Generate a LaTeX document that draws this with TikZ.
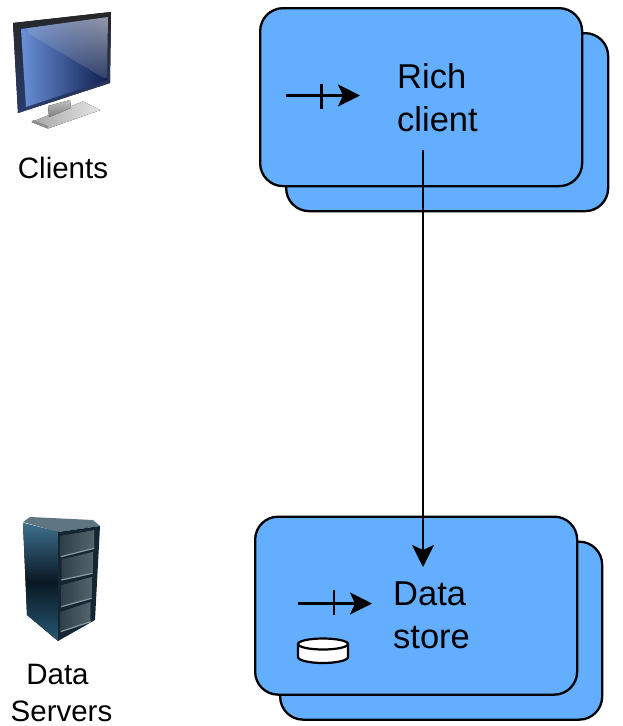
\documentclass[tikz,border=0pt]{standalone}
\usepackage{fontspec}
\setmainfont{Liberation Sans}
\usetikzlibrary{arrows.meta,shapes.geometric,fadings}
\definecolor{boxblue}{HTML}{63AEFF}
\definecolor{scrlight}{RGB}{112,152,225}
\definecolor{scrdark}{RGB}{10,24,70}
\definecolor{scrgray}{RGB}{215,215,218}
\definecolor{bezelb}{RGB}{40,60,110}
\definecolor{srvside}{RGB}{62,112,140}
\definecolor{srvsideb}{RGB}{40,88,115}
\definecolor{srvmid}{RGB}{10,24,36}
\definecolor{srvfront}{RGB}{20,38,52}
\definecolor{srvtop}{RGB}{95,118,130}
\definecolor{rackl}{RGB}{48,64,74}
\definecolor{rackr}{RGB}{84,100,108}
\definecolor{rackb}{RGB}{135,155,160}
\tikzset{
  card/.style={draw=black,line width=2.3pt,fill=boxblue,rounded corners=23pt,minimum width=322pt,minimum height=178pt,inner sep=0pt,anchor=north west},
  lbl/.style={align=left,inner sep=0pt,anchor=north west,font=\fontsize{34.5}{43}\selectfont},
  captiontext/.style={align=center,inner sep=0pt,anchor=north,font=\fontsize{29.5}{37}\selectfont},
  conn/.style={line width=2.2pt,-{Stealth[length=22pt,width=22pt,inset=5pt]}},
  tickline/.style={line width=2.2pt},
  wire/.style={line width=2.2pt}
}
\begin{document}
\begin{tikzpicture}[x=1pt,y=-1pt]
\useasboundingbox (0,0) rectangle (623,726);
% Rich client
\node[card] (richback) at (285,32) {};
\node[card] (richfront) at (259,7) {};
\node[lbl] (richtext) at (397,63.5) {Rich\\client};
\coordinate (ra) at (286,95.5);\coordinate (rb) at (360,95.5);
\coordinate (rt1) at (321.5,84);\coordinate (rt2) at (321.5,109);
\draw[conn] (ra) -- (rb);
\draw[tickline] (rt1) -- (rt2);
% Data store
\node[card] (databack) at (279,540.5) {};
\node[card] (datafront) at (254,515.5) {};
\node[lbl] (datatext) at (393,581.5) {Data\\store};
\coordinate (da) at (298,603.5);\coordinate (db) at (372,603.5);
\coordinate (dt1) at (334,590);\coordinate (dt2) at (334,615);
\draw[conn] (da) -- (db);
\draw[tickline] (dt1) -- (dt2);
% cylinder
\draw[wire,fill=white] (298,644) -- (298,657) arc[start angle=180,end angle=0,x radius=25,y radius=6] -- (348,644);
\draw[wire,fill=white] (323,644) ellipse[x radius=25,y radius=5.5];
% main connector
\coordinate (c1) at (423,150);\coordinate (c2) at (423,567);
\draw[conn] (c1) -- (c2);
% Monitor
\fill[left color=black!35,right color=black!10] (31.5,122) -- (83,101.5) -- (100.5,110) -- (48,128.5) -- cycle;
\fill[black!45] (31.5,122) -- (48,128.5) -- (48,126) -- (33,120) -- cycle;
\fill[top color=black!25,bottom color=black!50] (48,106) -- (70,100) -- (71,108) -- (49,117) -- cycle;
\fill[top color=black!85,bottom color=bezelb] (13,23) -- (111,12) -- (110,83) -- (18,113) -- cycle;
\begin{scope}
\clip (21,29) -- (108,17) -- (107,80) -- (26,107) -- cycle;
\shade[left color=scrlight,right color=scrdark] (15,10) rectangle (112,115);
\clip (21,29) -- (107,80) -- (115,10) -- cycle;
\fill[scrgray,path fading=west,fading angle=59] (28,-32) rectangle (138,78);
\end{scope}
% Server
\fill[srvtop] (23,522) -- (30,517) -- (93,520) -- (100,526) -- (58,532) -- cycle;
\fill[top color=srvside,bottom color=srvsideb,middle color=srvmid] (23,523) -- (58,532) -- (58,641) -- (27,615) -- cycle;
\fill[srvfront] (58,532) -- (100,526) -- (95,620) -- (58,641) -- cycle;
\foreach \xa/\ya/\xb/\yb/\xc/\yc/\xd/\yd in {
 60.7/535.7/94.3/530/94.3/548.3/60.7/556.7,
 61.3/559.3/93.3/551.7/92.7/573.3/61.3/580,
 61.3/585/92.3/576.7/91.7/598.3/61.3/606.7,
 60.7/611.7/90.7/601.7/90.7/621.7/60.7/631.7}{
 \fill[left color=rackl,right color=rackr] (\xa,\ya) -- (\xb,\yb) -- (\xc,\yc) -- (\xd,\yd) -- cycle;
 \draw[rackb,line width=1.2pt] (\xd,\yd) -- (\xc,\yc);
}
% Captions
\node[captiontext] (clients) at (63,157) {Clients};
\node[captiontext] (servers) at (61.5,663.5) {Data\hspace*{8pt}\\Servers};
\end{tikzpicture}
\end{document}
